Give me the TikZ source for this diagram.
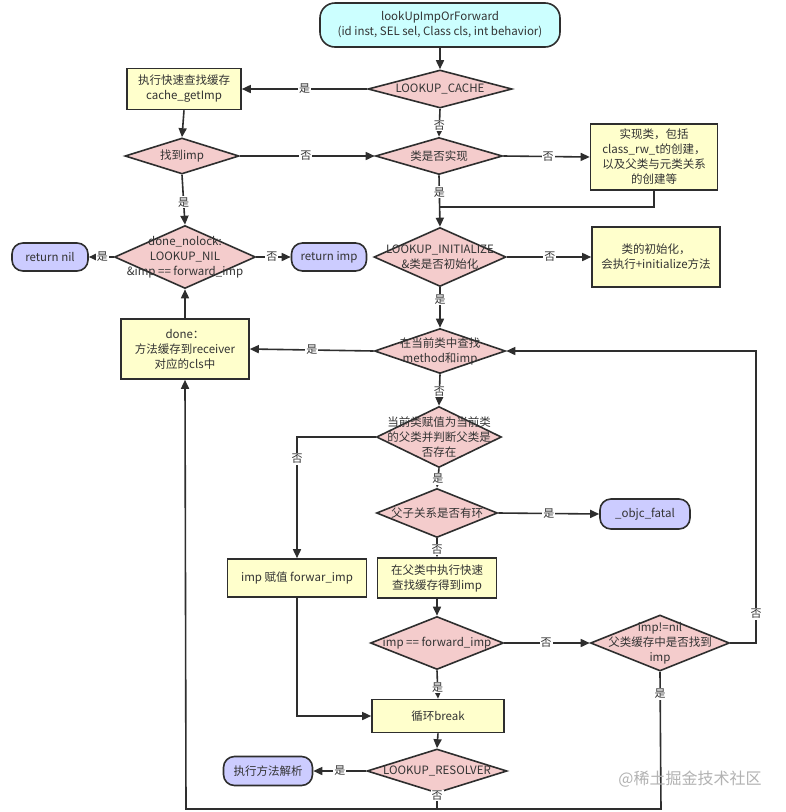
\documentclass[tikz,border=0pt]{standalone}
\usepackage{fontspec}
\setmainfont{Noto Sans CJK SC}
\usetikzlibrary{shapes.geometric,arrows.meta}
\definecolor{edgec}{HTML}{2E2E2E}
\definecolor{txtc}{HTML}{333333}
\definecolor{pinkc}{HTML}{F4CCCC}
\definecolor{yelc}{HTML}{FFFFCC}
\definecolor{cyanc}{HTML}{CCFFFF}
\definecolor{bluec}{HTML}{CCCCFF}
\tikzset{
  base/.style={draw=edgec, line width=1.6pt, text=txtc, align=center, inner sep=1pt,
    font=\fontsize{11.5}{15}\selectfont},
  dia/.style={base, diamond, fill=pinkc, inner sep=0pt},
  ybox/.style={base, rectangle, fill=yelc},
  term/.style={base, rectangle, rounded corners=11pt},
  conn/.style={draw=edgec, line width=1.6pt},
  arr/.style={conn, -{Triangle[length=9pt,width=8pt]}},
  lbl/.style={fill=white, inner sep=1pt, text=txtc, font=\fontsize{11}{12}\selectfont},
  dt/.style={align=center, text=txtc, font=\fontsize{11.5}{15}\selectfont, inner sep=0pt},
}
\begin{document}
\begin{tikzpicture}[x=1pt,y=-1pt]
\useasboundingbox[fill=white] (0,0) rectangle (786,812);

% nodes
\node[term, fill=cyanc, rounded corners=15pt, minimum width=240pt, minimum height=44pt] (start) at (440,25)
  {lookUpImpOrForward\\(id inst, SEL sel, Class cls, int behavior)};
\node[dia, minimum width=144pt, minimum height=38pt, label={[dt]center:LOOKUP\_CACHE}] (cache) at (440,89) {};
\node[ybox, minimum width=114pt, minimum height=41pt] (fast) at (184,89) {执行快速查找缓存\\cache\_getImp};
\node[dia, minimum width=114pt, minimum height=36pt, label={[dt]center:找到imp}] (found) at (182,156) {};
\node[dia, minimum width=127pt, minimum height=37pt, label={[dt]center:类是否实现}] (realized) at (439,156) {};
\node[ybox, minimum width=127pt, minimum height=66pt] (realize) at (654,157)
  {实现类，包括\\class\_rw\_t的创建，\\以及父类与元类关系\\的创建等};
\coordinate (j1) at (440,207);
\node[dia, minimum width=141pt, minimum height=63pt,
  label={[dt]center:{done\_nolock:\\LOOKUP\_NIL\\\&imp == forward\_imp}}] (nolock) at (185,257) {};
\node[term, fill=bluec, minimum width=76pt, minimum height=28pt] (retnil) at (50,257) {return nil};
\node[term, fill=bluec, minimum width=75pt, minimum height=28pt] (retimp) at (329,257) {return imp};
\node[dia, minimum width=132pt, minimum height=59pt,
  label={[dt]center:{LOOKUP\_INITIALIZE\\\&类是否初始化}}] (init) at (440,257) {};
\node[ybox, minimum width=128pt, minimum height=60pt] (initbox) at (656,257) {类的初始化，\\会执行+initialize方法};
\node[dia, minimum width=131pt, minimum height=45pt,
  label={[dt]center:{在当前类中查找\\method和imp}}] (search) at (440,351) {};
\node[ybox, minimum width=128pt, minimum height=60pt] (done) at (185,349) {done：\\方法缓存到receiver\\对应的cls中};
\node[dia, minimum width=125pt, minimum height=61pt,
  label={[dt]center:{当前类赋值为当前类\\的父类并判断父类是\\否存在}}] (super) at (439,437) {};
\node[dia, minimum width=121pt, minimum height=49pt, label={[dt]center:父子关系是否有环}] (cycle) at (437,513) {};
\node[term, fill=bluec, minimum width=90pt, minimum height=30pt] (fatal) at (645,514) {\_objc\_fatal};
\node[ybox, minimum width=139pt, minimum height=38pt] (forwar) at (297,578) {imp 赋值 forwar\_imp};
\node[ybox, minimum width=119pt, minimum height=40pt] (parent) at (437,578) {在父类中执行快速\\查找缓存得到imp};
\node[dia, minimum width=133pt, minimum height=53pt, label={[dt]center:imp == forward\_imp}] (fwd) at (437,643) {};
\node[dia, minimum width=139pt, minimum height=56pt,
  label={[dt]center:{imp!=nil\\父类缓存中是否找到\\imp}}] (notnil) at (660,643) {};
\node[ybox, minimum width=132pt, minimum height=33pt] (brk) at (438,716) {循环break};
\node[dia, minimum width=140pt, minimum height=44pt, label={[dt]center:LOOKUP\_RESOLVER}] (resolver) at (437,771) {};
\node[term, fill=bluec, minimum width=89pt, minimum height=29pt] (resolve) at (268,771) {执行方法解析};
\coordinate (rtop) at (756,351);
\coordinate (rbot) at (756,643);
\coordinate (bot) at (437,809);
\coordinate (botl) at (186,809);
\coordinate (botr) at (661,809);

% connectors
\draw[arr] (start) -- (cache);
\draw[arr] (cache.west) -- node[lbl,pos=0.5]{是} (fast.east);
\draw[arr] (cache.south) -- node[lbl,pos=0.6]{否} (realized.north);
\draw[arr] (fast.south) -- (found.north);
\draw[arr] (found.east) -- node[lbl,pos=0.49]{否} (realized.west);
\draw[arr] (realized.east) -- node[lbl,pos=0.52]{否} (realize.west);
\draw[arr] (realized.south) -- node[lbl,pos=0.33]{是} (init.north);
\draw[conn] (realize.south) |- (j1);
\draw[arr] (found.south) -- node[lbl,pos=0.55]{是} (nolock.north);
\draw[arr] (nolock.west) -- node[lbl,pos=0.45]{是} (retnil.east);
\draw[arr] (nolock.east) -- node[lbl,pos=0.45]{否} (retimp.west);
\draw[arr] (init.east) -- node[lbl,pos=0.51]{否} (initbox.west);
\draw[arr] (init.south) -- node[lbl,pos=0.3]{是} (search.north);
\draw[arr] (search.west) -- node[lbl,pos=0.5]{是} (done.east);
\draw[arr] (done.north) -- (nolock.south);
\draw[arr] (search.south) -- node[lbl,pos=0.55]{否} (super.north);
\draw[arr] (super.west) -| node[lbl,pos=0.59]{否} (forwar.north);
\draw[arr] (super.south) -- node[lbl,pos=0.55]{是} (cycle.north);
\draw[arr] (cycle.east) -- node[lbl,pos=0.5]{是} (fatal.west);
\draw[arr] (cycle.south) -- node[lbl,pos=0.6]{否} (parent.north);
\draw[arr] (parent.south) -- (fwd.north);
\draw[arr] (fwd.east) -- node[lbl,pos=0.49]{否} (notnil.west);
\draw[arr] (notnil.east) -- (rbot) -- node[lbl,pos=0.1]{否} (rtop) -- (search.east);
\draw[arr] (fwd.south) -- node[lbl,pos=0.6]{是} (brk.north);
\draw[arr] (forwar.south) |- (brk.west);
\draw[arr] (brk.south) -- (resolver.north);
\draw[arr] (resolver.west) -- node[lbl,pos=0.5]{是} (resolve.east);
\draw[arr] (resolver.south) -- node[lbl,pos=0.1]{否} (bot) -- (botl) -- (done.south);
\draw[conn] (notnil.south) -- node[lbl,pos=0.16]{是} (botr) -- (bot);

\node[text=black!30, font=\fontsize{16}{18}\selectfont, inner sep=0pt] (wm) at (690,779) {@稀土掘金技术社区};
\end{tikzpicture}
\end{document}
